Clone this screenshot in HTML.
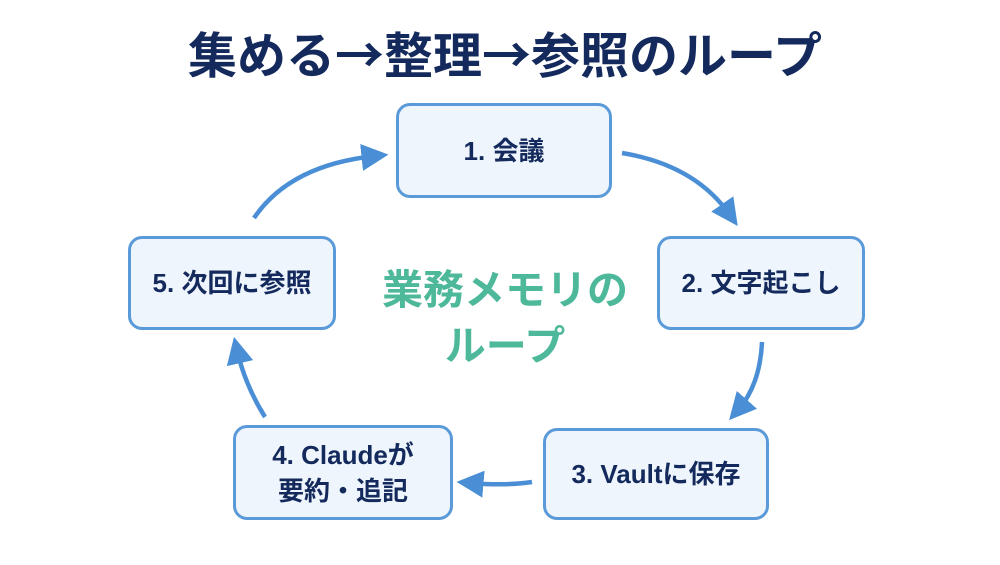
<!DOCTYPE html>
<html><head><meta charset="utf-8"><style>
body{margin:0;width:1000px;height:565px;background:#fff;position:relative;overflow:hidden;font-family:"Liberation Sans","Noto Sans CJK JP",sans-serif;}
.t{position:absolute;left:0;width:1000px;top:18px;text-align:center;font-size:49px;line-height:70px;font-weight:bold;color:#142a5c;padding-left:10px;box-sizing:border-box;font-family:"Noto Sans CJK JP",sans-serif}
.b{position:absolute;box-sizing:border-box;border:3px solid #5b9ad8;border-radius:14px;background:#eef5fd;display:flex;align-items:center;justify-content:center;text-align:center;font-weight:bold;color:#142a5c;font-size:26px;line-height:36px}
.c{position:absolute;left:370px;width:270px;top:262px;text-align:center;color:#4db89a;font-weight:bold;font-size:41px;line-height:56px}
</style></head><body>
<div class="t">集める→整理→参照のループ</div>
<svg width="1000" height="565" style="position:absolute;left:0;top:0">
<defs><marker id="a" markerWidth="6" markerHeight="6" refX="3" refY="3" orient="auto" markerUnits="strokeWidth"><path d="M0,0 L6,3 L0,6 z" fill="#4a8fd6"/></marker></defs>
<g stroke="#4a8fd6" stroke-width="4.5" fill="none" marker-end="url(#a)">
<path d="M622,153 Q695,165 730,215"/>
<path d="M762,342 Q760,385 738,410"/>
<path d="M532,482 Q505,486 470,483"/>
<path d="M265,417 Q245,385 237,350"/>
<path d="M254,218 Q290,165 375,156"/>
</g></svg>
<div class="b" style="left:396px;top:103px;width:216px;height:95px">1. 会議</div>
<div class="b" style="left:657px;top:236px;width:208px;height:94px">2. 文字起こし</div>
<div class="b" style="left:543px;top:428px;width:226px;height:92px">3. Vaultに保存</div>
<div class="b" style="left:233px;top:425px;width:220px;height:95px">4. Claudeが<br>要約・追記</div>
<div class="b" style="left:128px;top:236px;width:208px;height:94px">5. 次回に参照</div>
<div class="c">業務メモリの<br>ループ</div>
</body></html>
